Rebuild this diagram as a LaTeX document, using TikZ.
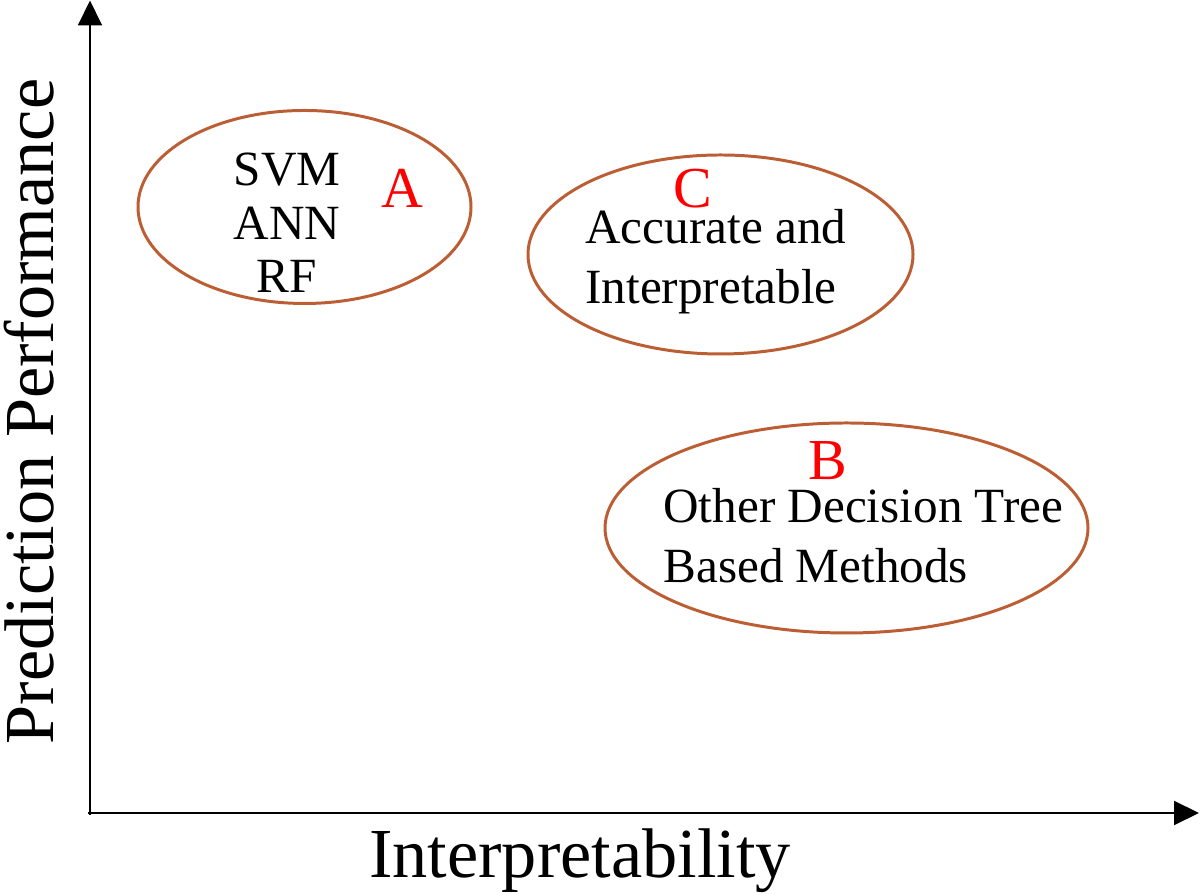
\documentclass[tikz,border=0pt]{standalone}
\usepackage{fontspec}
\setmainfont{Liberation Serif}
\usetikzlibrary{shapes.geometric,arrows.meta}

\definecolor{ringbrown}{RGB}{188,94,52}

\begin{document}
\begin{tikzpicture}[
    axis/.style={line width=1.1pt,-{Triangle[length=0.5cm,width=0.48cm]}},
    region/.style={ellipse,draw=ringbrown,line width=1.7pt,inner sep=0pt},
    body/.style={font=\fontsize{28}{30.5}\selectfont,inner sep=0pt},
    tag/.style={font=\fontsize{33}{36}\selectfont,text=red,inner sep=0pt,anchor=base},
    axislabel/.style={font=\fontsize{40}{44}\selectfont,inner sep=0pt,anchor=base}
  ]
  \useasboundingbox (0,0) rectangle (24,17.88);

  % axes
  \coordinate (ybot) at (1.8,1.58);
  \coordinate (ytip) at (1.8,17.87);
  \coordinate (xbot) at (1.76,1.62);
  \coordinate (xtip) at (23.98,1.62);
  \draw[axis] (ybot) -- (ytip);
  \draw[axis] (xbot) -- (xtip);

  \node[axislabel] (xlabel) at (11.6,0.32) {Interpretability};
  \node[axislabel,rotate=90] (ylabel) at (1.06,9.65) {Prediction Performance};

  % regions
  \node[region,minimum width=6.66cm,minimum height=3.86cm] (regA) at (6.09,13.74) {};
  \node[region,minimum width=7.70cm,minimum height=3.98cm] (regC) at (14.41,12.79) {};
  \node[region,minimum width=9.66cm,minimum height=4.20cm] (regB) at (16.93,7.32) {};

  % contents (base = last line)
  \node[body,align=center,anchor=base] (methA) at (5.74,12.02) {SVM\\ANN\\RF};
  \node[tag] (tagA) at (8.05,13.72) {A};

  \node[tag] (tagC) at (13.86,13.72) {C};
  \node[body,align=left,anchor=base west,font=\fontsize{28}{34.7}\selectfont] (methC) at (11.7,11.8) {Accurate and\\Interpretable};

  \node[tag] (tagB) at (16.56,8.28) {B};
  \node[body,align=left,anchor=base west,font=\fontsize{28}{34.7}\selectfont] (methB) at (13.26,6.22) {Other Decision Tree\\Based Methods};
\end{tikzpicture}
\end{document}
